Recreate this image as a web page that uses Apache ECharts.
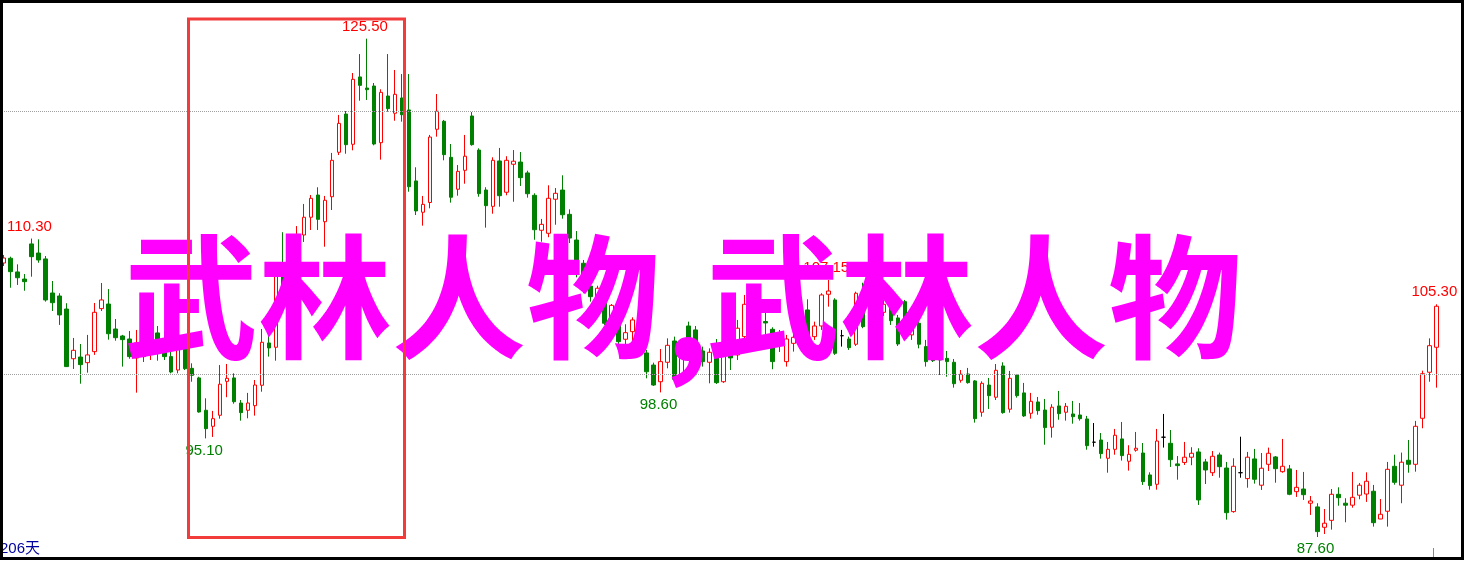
<!DOCTYPE html>
<html><head><meta charset="utf-8">
<script src="https://cdn.jsdelivr.net/npm/echarts@6/dist/echarts.min.js"></script>
<style>html,body{margin:0;padding:0;background:#fff}#c{width:1464px;height:561px}</style>
</head><body><div id="c"></div>
<script>
const openPrices = [108.44,108.80,107.76,107.22,109.89,109.20,108.75,106.16,105.93,104.94,101.16,101.29,100.86,101.70,104.97,105.32,103.42,102.89,102.66,101.22,101.32,101.67,103.12,102.03,101.32,100.30,101.88,100.43,99.70,97.24,96.02,96.86,99.44,99.70,97.79,97.24,97.59,99.14,102.36,102.03,108.29,106.77,108.82,110.57,111.92,113.61,111.58,113.48,116.86,119.77,117.47,122.59,121.75,121.90,117.59,121.14,119.83,120.99,120.08,114.68,112.30,113.04,118.61,119.22,116.48,114.05,115.49,119.62,117.03,113.99,112.75,116.20,113.82,115.95,116.12,115.29,113.59,110.93,110.70,113.29,113.99,112.14,110.19,108.42,106.69,105.93,106.69,104.08,105.17,102.64,103.22,103.93,101.60,100.68,99.41,100.89,102.51,99.67,103.65,103.35,101.75,100.89,101.32,99.41,103.35,101.45,102.84,105.25,104.26,103.99,103.40,102.21,100.94,102.33,102.59,104.87,102.84,103.65,106.06,105.63,102.91,102.66,102.26,106.14,103.86,104.26,104.69,105.17,104.26,105.50,102.97,103.86,102.08,101.19,101.37,101.19,100.89,99.52,100.00,99.47,97.09,99.16,98.23,100.61,97.32,99.92,98.56,97.01,97.87,97.26,95.95,97.57,97.09,96.96,96.88,96.58,94.81,94.98,93.59,94.27,95.06,93.36,94.20,93.99,92.32,91.61,95.19,94.73,93.16,93.27,93.67,94.07,93.31,92.49,93.84,92.85,89.53,92.49,92.04,93.54,91.54,93.13,93.69,92.57,92.78,91.05,91.25,90.17,89.89,88.34,88.87,90.85,90.17,90.02,90.78,90.87,91.08,88.97,89.56,92.98,91.54,93.44,93.13,96.63,100.13,102.03];
const closePrices = [108.82,107.78,107.32,107.02,108.92,108.67,105.63,105.42,104.49,100.56,101.80,100.71,101.45,104.69,105.63,103.06,102.76,102.61,101.32,102.36,102.59,102.21,102.59,101.32,100.15,101.90,100.40,99.90,97.11,95.84,96.60,99.22,99.67,97.89,97.06,97.79,99.16,102.41,101.98,107.53,106.54,109.05,110.34,111.92,113.36,111.76,113.21,116.25,119.06,117.44,122.41,121.95,121.62,117.49,121.42,120.18,121.27,119.72,114.24,112.40,112.90,118.02,119.98,116.68,113.44,115.41,116.56,117.44,113.71,112.80,116.25,113.56,116.25,116.18,114.93,113.71,110.97,111.38,113.36,113.74,112.11,110.34,108.52,107.15,105.88,106.52,103.86,105.22,102.46,103.14,104.11,102.33,100.17,99.16,100.94,102.18,99.60,101.95,101.83,102.21,100.94,101.65,99.34,101.42,101.22,103.48,105.30,103.95,103.80,103.88,100.94,102.97,102.66,102.79,104.71,102.97,103.65,106.01,106.31,101.57,102.91,102.00,106.14,103.60,105.12,105.17,105.30,104.05,102.28,102.71,103.50,102.26,100.94,101.01,101.06,100.94,99.26,99.98,99.34,96.60,99.29,98.35,100.28,97.06,99.67,98.35,96.81,97.92,97.21,95.92,97.47,96.98,97.54,96.75,96.60,94.55,94.81,93.94,94.27,95.34,93.79,93.89,94.35,91.81,91.51,94.90,95.19,93.48,93.03,93.67,93.97,90.42,92.70,93.74,92.95,89.45,92.98,92.49,93.67,91.99,92.83,93.97,92.80,92.98,90.85,91.38,90.82,90.34,88.01,88.65,90.85,90.59,90.02,90.62,91.54,91.84,88.69,89.33,92.75,91.76,93.29,93.13,96.02,100.02,102.15,105.15];
const lowPrices = [108.21,106.56,106.77,106.33,107.40,108.46,105.50,104.79,103.73,100.53,100.38,99.26,100.10,101.45,104.79,102.61,102.53,100.56,101.16,98.58,100.91,101.06,101.01,101.06,100.05,100.05,100.30,99.41,97.06,95.10,95.21,96.60,98.23,97.74,96.45,96.63,96.83,98.65,101.32,101.01,106.01,106.24,108.52,110.04,110.95,110.95,109.68,112.47,116.65,116.75,117.01,120.78,120.84,117.39,116.30,119.95,119.26,119.19,113.86,112.09,111.28,112.60,118.05,116.25,113.03,113.56,114.47,117.36,113.48,111.13,112.19,112.72,113.59,113.10,114.30,113.41,110.21,110.06,110.40,111.35,111.81,109.96,107.35,106.14,105.50,105.63,103.73,103.88,102.08,102.21,102.21,101.98,99.67,99.09,98.60,100.43,99.34,99.54,101.22,101.83,100.56,99.29,99.24,99.32,100.30,101.06,102.59,103.50,103.35,102.97,100.36,101.67,100.56,101.70,102.21,102.74,102.59,103.35,105.12,101.45,102.08,101.83,102.13,103.48,103.22,103.95,104.41,103.73,102.13,102.59,102.59,101.95,100.56,100.91,99.92,99.79,98.96,99.34,99.26,96.30,96.75,97.34,98.02,96.98,97.06,98.20,96.73,96.60,96.90,94.62,95.16,96.52,96.45,96.22,96.45,94.24,94.47,93.56,92.49,93.86,93.41,92.65,94.09,91.56,91.20,91.20,94.40,92.93,91.96,93.08,93.06,90.04,91.63,92.24,92.11,88.92,89.45,92.11,91.35,91.66,91.18,92.62,91.73,92.49,90.78,90.65,90.42,89.28,87.60,87.83,88.16,89.98,88.72,89.83,90.47,90.27,88.39,88.97,88.39,91.58,90.17,92.49,92.57,95.87,99.41,98.96];
const highPrices = [109.05,108.92,108.34,107.60,110.30,110.24,108.97,107.07,106.14,105.38,102.74,102.28,102.97,105.40,106.92,106.46,104.18,102.97,103.27,103.35,103.19,102.74,103.65,103.27,101.67,102.59,102.21,100.81,99.79,98.15,97.19,100.68,100.76,100.05,98.02,98.56,99.54,103.42,102.97,108.06,110.78,109.43,111.25,112.93,113.61,114.20,113.54,116.81,119.70,120.00,122.89,124.33,125.50,122.13,121.65,124.33,123.12,122.81,122.81,115.72,113.54,118.18,121.29,119.32,117.49,115.89,118.18,119.92,117.16,114.20,116.48,117.19,116.56,117.03,116.88,115.46,113.74,111.79,114.35,114.14,115.11,112.52,110.87,108.67,106.90,106.71,107.02,105.32,105.22,103.78,104.31,104.26,101.83,100.86,101.90,102.71,102.84,102.08,103.98,103.65,102.08,101.95,102.66,103.35,104.26,104.11,106.01,105.63,104.71,104.74,103.55,103.35,102.97,103.48,105.25,105.68,103.98,106.14,107.15,105.76,103.35,102.84,106.26,106.94,105.63,105.63,105.63,105.40,104.49,105.63,103.95,104.11,102.59,101.67,101.83,101.75,101.14,100.30,100.46,99.54,99.44,99.70,100.76,100.89,100.23,100.00,99.32,98.56,98.25,98.10,97.70,98.71,97.79,97.95,97.79,96.81,96.27,95.51,94.83,95.82,96.35,94.58,95.59,94.75,92.52,95.82,96.96,95.74,93.76,94.83,94.43,94.35,93.54,94.14,94.02,93.31,93.59,95.23,94.07,94.30,93.99,94.40,93.76,95.06,93.08,92.70,92.55,90.72,90.17,89.73,91.25,91.38,90.55,92.55,91.71,92.52,91.56,90.49,93.31,93.86,94.02,94.98,96.43,100.25,102.71,105.30];
const days = openPrices.map((_, i) => String(i + 1));
const highMarkIdx = [4, 52, 118, 205];
const lowMarkIdx = [29, 94, 188];
const gridLevels = [100, 120];
const dayCountLabel = '206天';
const overlayWords = ['武林人物', '，', '武林人物'];

const candleData = openPrices.map((o, i) => [o, closePrices[i], lowPrices[i], highPrices[i]]);

const markPts = [];
highMarkIdx.forEach(i => markPts.push({
  coord: [i, highPrices[i]], value: highPrices[i].toFixed(2),
  label: { position: 'top', color: '#ff0000' }
}));
lowMarkIdx.forEach(i => markPts.push({
  coord: [i, lowPrices[i]], value: lowPrices[i].toFixed(2),
  label: { position: 'bottom', color: '#008000' }
}));

const chart = echarts.init(document.getElementById('c'), null, { renderer: 'canvas' });
const magentaFont = 'bold 134px "Noto Sans CJK SC"';
chart.setOption({
  animation: false,
  backgroundColor: '#ffffff',
  grid: { left: -2.2, right: 3.2, top: 2, bottom: 4 },
  xAxis: { type: 'category', data: days, boundaryGap: true, max: 208, show: false },
  yAxis: { type: 'value', min: 86.08, max: 128.29, show: false, splitLine: { show: false } },
  series: [{
    type: 'candlestick',
    data: candleData,
    barWidth: 4,
    clip: true,
    itemStyle: {
      color: '#ffffff', color0: '#008000',
      borderColor: '#ff0000', borderColor0: '#008000',
      borderColorDoji: '#000000', borderWidth: 1
    },
    emphasis: { disabled: true },
    markLine: {
      silent: true, symbol: ['none', 'none'], animation: false,
      label: { show: false },
      lineStyle: { color: '#a0a0a0', type: [1, 1], width: 1 },
      data: gridLevels.map(v => ({ yAxis: v }))
    },
    markPoint: {
      silent: true, animation: false,
      symbol: 'circle', symbolSize: 1,
      itemStyle: { color: 'rgba(0,0,0,0)' },
      label: { show: true, fontSize: 15, fontFamily: '"Liberation Sans", Arial, sans-serif', distance: 4, offset: [-2, 0], formatter: p => p.value },
      data: markPts
    }
  }],
  graphic: [
    { type: 'text', z: 100, x: 124, y: 297, style: { text: overlayWords[0], font: magentaFont, fill: '#ff00ff', align: 'left', verticalAlign: 'middle', textAlign: 'left', textVerticalAlign: 'middle' } },
    { type: 'text', z: 100, x: 650, y: 318, style: { text: overlayWords[1], font: magentaFont, fill: '#ff00ff', align: 'left', verticalAlign: 'middle', textAlign: 'left', textVerticalAlign: 'middle' } },
    { type: 'text', z: 100, x: 706, y: 297, style: { text: overlayWords[2], font: magentaFont, fill: '#ff00ff', align: 'left', verticalAlign: 'middle', textAlign: 'left', textVerticalAlign: 'middle' } },
    { type: 'rect', z: 110, shape: { x: 188.5, y: 19, width: 216, height: 518.5 }, style: { fill: 'none', stroke: '#f23c3c', lineWidth: 3 } },
    { type: 'text', z: 115, x: 0, y: 549, style: { text: dayCountLabel, font: '15px "Liberation Sans", "Noto Sans CJK SC"', fill: '#0000a0', align: 'left', verticalAlign: 'middle', textAlign: 'left', textVerticalAlign: 'middle' } },
    { type: 'line', z: 115, shape: { x1: 1433.5, y1: 548, x2: 1433.5, y2: 557 }, style: { stroke: '#888888', lineWidth: 1 } },
    { type: 'rect', z: 120, shape: { x: 0, y: 0, width: 1464, height: 3 }, style: { fill: '#000' } },
    { type: 'rect', z: 120, shape: { x: 0, y: 0, width: 3, height: 560 }, style: { fill: '#000' } },
    { type: 'rect', z: 120, shape: { x: 1461, y: 0, width: 3, height: 560 }, style: { fill: '#000' } },
    { type: 'rect', z: 120, shape: { x: 0, y: 557, width: 1464, height: 3 }, style: { fill: '#000' } }
  ]
});
</script>
</body></html>
